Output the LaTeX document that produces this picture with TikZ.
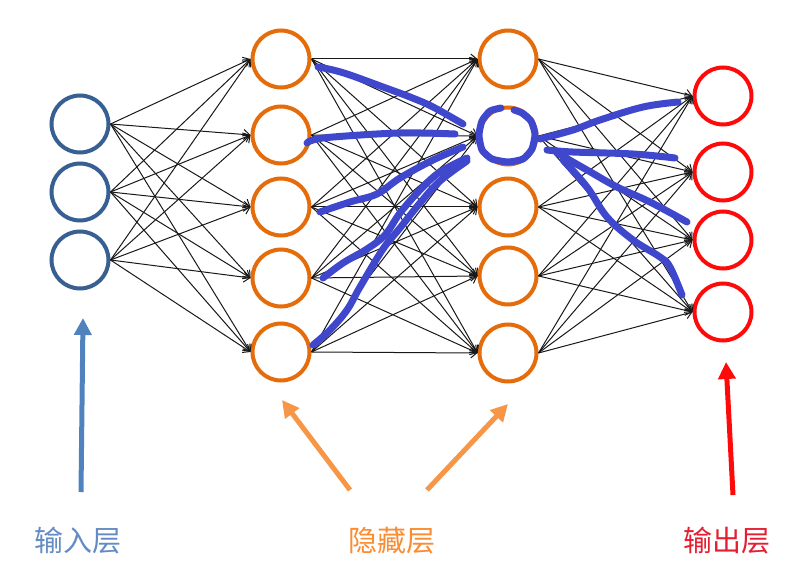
\documentclass[tikz,border=0pt]{standalone}
\usepackage{fontspec}
\newfontfamily\cjk{Noto Sans CJK SC}
\usetikzlibrary{arrows.meta}
\definecolor{inblue}{RGB}{55,95,145}
\definecolor{inarrow}{RGB}{80,130,190}
\definecolor{inlab}{RGB}{100,140,195}
\definecolor{hidorange}{RGB}{228,108,10}
\definecolor{hidarrow}{RGB}{247,150,70}
\definecolor{hidlab}{RGB}{250,140,50}
\definecolor{outred}{RGB}{255,10,10}
\definecolor{outlab}{RGB}{230,30,50}
\definecolor{handblue}{RGB}{63,72,204}
\tikzset{
  neuron/.style={circle, minimum size=57pt, inner sep=0pt, line width=4pt, fill=white},
  inn/.style={neuron, draw=inblue},
  hid/.style={neuron, draw=hidorange},
  outn/.style={neuron, draw=outred},
  link/.style={draw=black!90, line width=1pt, -{Straight Barb[length=6pt,width=10pt]}},
  hand/.style={draw=handblue, line width=7pt, line cap=round, line join=round},
  bigarrow/.style={line width=5pt, -{Triangle[length=17pt,width=17pt]}},
  lab/.style={font=\cjk\fontsize{29}{32}\selectfont, inner sep=0pt},
}
\begin{document}
\begin{tikzpicture}[x=1pt,y=-1pt]
\useasboundingbox (0,0) rectangle (811,580);
% neurons
\node[inn] (i1) at (80,124) {};
\node[inn] (i2) at (80,192) {};
\node[inn] (i3) at (80,260) {};
\node[hid] (a1) at (281,59) {};
\node[hid] (a2) at (281,135) {};
\node[hid] (a3) at (281,207) {};
\node[hid] (a4) at (281,278) {};
\node[hid] (a5) at (281,352) {};
\node[hid] (b1) at (508,59) {};
\node[hid] (b2) at (508,136) {};
\node[hid] (b3) at (508,207) {};
\node[hid] (b4) at (508,276) {};
\node[hid] (b5) at (508,353) {};
\node[outn] (o1) at (723,96) {};
\node[outn] (o2) at (723,172) {};
\node[outn] (o3) at (723,240) {};
\node[outn] (o4) at (723,312) {};
% links
\foreach \i in {1,2,3}{\foreach \j in {1,...,5}{\draw[link] (i\i.east) -- (a\j.west);}}
\foreach \i in {1,...,5}{\foreach \j in {1,...,5}{\draw[link] (a\i.east) -- (b\j.west);}}
\foreach \i in {1,...,5}{\foreach \j in {1,...,4}{\draw[link] (b\i.east) -- (o\j.west);}}
% hand-drawn highlight
\draw[hand] plot[smooth, tension=0.6] coordinates {(318,67) (333,70) (350,75) (383,87) (410,97) (433,107) (463,124)};
\draw[hand] plot[smooth, tension=0.6] coordinates {(307,143) (313,140) (333,137) (400,133) (455,134)};
\draw[hand] plot[smooth, tension=0.6] coordinates {(320,212) (350,202) (377,194) (400,178) (433,160) (463,147)};
\draw[hand] plot[smooth, tension=0.6] coordinates {(323,278) (343,263) (367,249) (385,235) (400,213) (420,190) (440,172) (467,158)};
\draw[hand] plot[smooth, tension=0.6] coordinates {(313,345) (330,330) (347,310) (360,287) (383,249) (400,228) (420,203) (440,181) (467,161)};
\draw[hand] plot[smooth, tension=0.6] coordinates {(540,139) (573,130) (600,120) (643,107) (678,102)};
\draw[hand] plot[smooth, tension=0.6] coordinates {(547,150) (573,152) (633,154) (675,158)};
\draw[hand] plot[smooth, tension=0.6] coordinates {(557,153) (587,170) (617,187) (650,202) (687,222)};
\draw[hand] plot[smooth, tension=0.6] coordinates {(563,160) (587,187) (607,217) (633,240) (660,257) (670,267) (682,295)};
\draw[hand] plot[smooth, tension=0.35] coordinates {(501,108) (490,111) (482,121) (479,135) (482,150) (492,159) (508,162) (523,159) (532,149) (535,134) (531,121) (522,113) (514,110)};
% bottom arrows
\coordinate (ia0) at (81,492);  \coordinate (ia1) at (83,318);
\coordinate (ha0) at (350,490); \coordinate (ha1) at (282,400);
\coordinate (hb0) at (427,490); \coordinate (hb1) at (508,404);
\coordinate (oa0) at (733,495); \coordinate (oa1) at (726,362);
\draw[bigarrow, draw=inarrow, fill=inarrow] (ia0) -- (ia1);
\draw[bigarrow, draw=hidarrow, fill=hidarrow] (ha0) -- (ha1);
\draw[bigarrow, draw=hidarrow, fill=hidarrow] (hb0) -- (hb1);
\draw[bigarrow, draw=outred, fill=outred] (oa0) -- (oa1);
% labels
\node[lab, text=inlab] (l1) at (78,541) {输入层};
\node[lab, text=hidlab] (l2) at (392,541) {隐藏层};
\node[lab, text=outlab] (l3) at (727,541) {输出层};
\end{tikzpicture}
\end{document}
